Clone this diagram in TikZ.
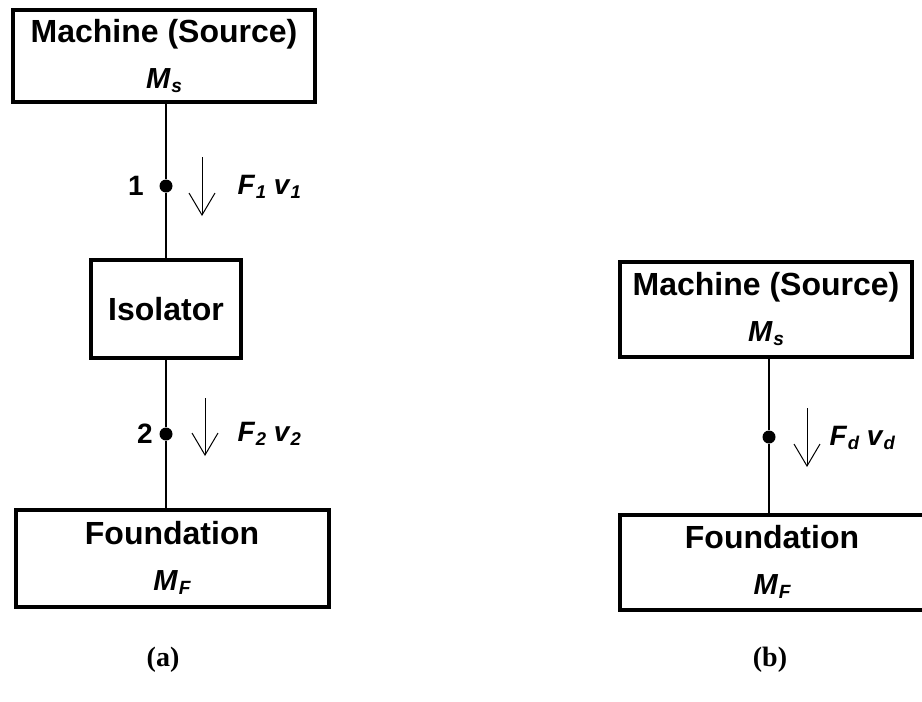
\documentclass[tikz,border=0pt]{standalone}
\usepackage{fontspec}
\setmainfont{Liberation Sans}
\newfontfamily\capfont{Liberation Serif}
\usetikzlibrary{positioning,arrows.meta}
\newcommand\qsym[2]{\textbf{\textit{#1\kern0.04em\raisebox{-0.3ex}{\scalebox{0.66}{#2}}}}}
\newcommand\massof[1]{{\fontsize{29}{30}\selectfont\qsym{M}{#1}}}

\begin{document}
\begin{tikzpicture}[x=1pt,y=-1pt,
  blockbox/.style={draw, line width=4pt, align=center, inner sep=0pt,
    font=\bfseries\fontsize{32}{46}\selectfont},
  link/.style={line width=1.3pt},
  flow/.style={line width=1pt, -{Straight Barb[length=22pt,width=26pt,line width=1pt]}},
  joint/.style={circle, fill, inner sep=0pt, minimum size=13pt},
  tag/.style={font=\bfseries\fontsize{28}{32}\selectfont},
  caption/.style={font=\capfont\bfseries\fontsize{28}{30}\selectfont}]
  \useasboundingbox (0,0) rectangle (922,702);

  % (a) machine, isolator, foundation
  \node[blockbox, minimum width=302pt, minimum height=92pt] (msa) at (164,56) {Machine (Source)\\ \massof{s}};
  \node[blockbox, minimum width=150pt, minimum height=98pt] (iso) at (166,309) {Isolator};
  \node[blockbox, minimum width=313pt, minimum height=97pt] (mfa) at (172,558) {Foundation\\ \massof{F}};
  \node[joint] (p1) at (166,186) {};
  \node[joint] (p2) at (166,434) {};
  \draw[link] (p1 |- msa.south) -- (p1) -- (p1 |- iso.north);
  \draw[link] (p2 |- iso.south) -- (p2) -- (p2 |- mfa.north);
  \node[tag, left=12pt of p1] (n1) {1};
  \node[tag, left=3pt of p2] (n2) {2};
  \coordinate (a1s) at (202,157);
  \coordinate (a1e) at (202,216);
  \coordinate (a2s) at (205,398);
  \coordinate (a2e) at (205,456);
  \draw[flow] (a1s) -- (a1e);
  \draw[flow] (a2s) -- (a2e);
  \node[tag, anchor=west] (q1) at (234,187) {\qsym{F}{1} \qsym{v}{1}};
  \node[tag, anchor=west] (q2) at (234,434) {\qsym{F}{2} \qsym{v}{2}};
  \node[caption] (capa) at (163,660) {(a)};

  % (b) machine straight on foundation
  \node[blockbox, minimum width=292pt, minimum height=95pt] (msb) at (766,309) {Machine (Source)\\ \massof{s}};
  \node[blockbox, minimum width=304pt, minimum height=95pt] (mfb) at (772,562) {Foundation\\ \massof{F}};
  \node[joint] (pd) at (769,437) {};
  \draw[link] (pd |- msb.south) -- (pd) -- (pd |- mfb.north);
  \coordinate (ads) at (807,408);
  \coordinate (ade) at (807,467);
  \draw[flow] (ads) -- (ade);
  \node[tag, anchor=west] (qd) at (826,438) {\qsym{F}{d} \qsym{v}{d}};
  \node[caption] (capb) at (770,660) {(b)};
\end{tikzpicture}
\end{document}
